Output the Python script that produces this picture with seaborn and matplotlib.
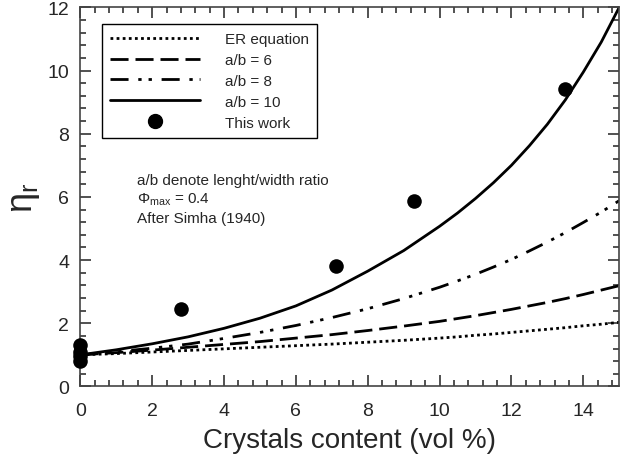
import numpy as np
import pandas as pd
import matplotlib
matplotlib.use("Agg")
import matplotlib.pyplot as plt
import seaborn as sns
from matplotlib.ticker import MultipleLocator
from matplotlib.lines import Line2D

# ---- data ----
x_curve = [0, 1, 2, 3, 4, 5, 6, 7, 8, 9, 10, 10.5, 11, 11.5, 12, 12.5, 13, 13.5, 14, 14.5, 15]
er_eq = [1.0, 1.04, 1.09, 1.14, 1.19, 1.24, 1.29, 1.34, 1.40, 1.46, 1.53, 1.57, 1.62, 1.66,
         1.71, 1.76, 1.81, 1.86, 1.92, 1.97, 2.03]
ab6 = [1.0, 1.07, 1.15, 1.24, 1.33, 1.42, 1.53, 1.64, 1.77, 1.91, 2.06, 2.15, 2.24, 2.34,
       2.44, 2.55, 2.66, 2.78, 2.91, 3.05, 3.19]
ab8 = [1.0, 1.10, 1.21, 1.34, 1.52, 1.71, 1.93, 2.18, 2.46, 2.78, 3.14, 3.34, 3.55, 3.78,
       4.02, 4.29, 4.57, 4.87, 5.19, 5.52, 5.88]
ab10 = [1.0, 1.16, 1.35, 1.57, 1.84, 2.16, 2.55, 3.05, 3.65, 4.30, 5.07, 5.49, 5.95, 6.45,
        7.00, 7.62, 8.30, 9.07, 9.95, 10.90, 12.0]

work_x = [0, 0, 0, 0, 2.8, 7.12, 9.3, 13.5]
work_y = [1.32, 1.08, 0.95, 0.80, 2.45, 3.80, 5.88, 9.40]

labels = ["ER equation", "a/b = 6", "a/b = 8", "a/b = 10", "This work"]
x_ticks = [0, 2, 4, 6, 8, 10, 12, 14]
y_ticks = [0, 2, 4, 6, 8, 10, 12]

# ---- style ----
sns.set_style("ticks")
plt.rcParams["font.family"] = ["Liberation Sans", "DejaVu Sans"]
plt.rcParams["mathtext.fontset"] = "custom"
plt.rcParams["mathtext.rm"] = "Liberation Sans"
plt.rcParams["mathtext.it"] = "Liberation Sans"

fig = plt.figure(figsize=(6.28, 4.64), dpi=100)
ax = fig.add_axes([0.128, 0.165, 0.858, 0.817])

lw = 2.0
styles = [
    (0, (1.0, 1.2)),
    (0, (6.5, 2.5)),
    (0, (6.5, 3.5, 1.2, 2.5, 1.2, 3.5)),
    "-",
]
series = [er_eq, ab6, ab8, ab10]
handles = []
for vals, ls, lab in zip(series, styles, labels[:4]):
    df = pd.DataFrame({"x": x_curve, "y": vals})
    sns.lineplot(data=df, x="x", y="y", ax=ax, color="black", linewidth=lw,
                 linestyle=ls, estimator=None, sort=False, legend=False)
    handles.append(Line2D([0], [0], color="black", linewidth=lw, linestyle=ls, label=lab))

dfp = pd.DataFrame({"x": work_x, "y": work_y})
sns.scatterplot(data=dfp, x="x", y="y", ax=ax, color="black", s=110,
                edgecolor="black", linewidth=0, zorder=5, legend=False, clip_on=False)
handles.append(Line2D([0], [0], color="black", marker="o", markersize=10,
                      linestyle="none", label=labels[4]))

ax.set_xlim(0, 15)
ax.set_ylim(0, 12)
ax.set_xticks(x_ticks)
ax.set_yticks(y_ticks)
ax.xaxis.set_minor_locator(MultipleLocator(0.4))
ax.yaxis.set_minor_locator(MultipleLocator(0.4))
ax.tick_params(which="both", direction="in", top=True, right=True, width=1.2, color="#333333")
ax.tick_params(which="major", length=8, labelsize=14, pad=8)
ax.tick_params(axis="x", which="major", pad=11)
ax.tick_params(which="minor", length=4)
for s in ax.spines.values():
    s.set_color("#444444")
    s.set_linewidth(1.2)

ax.set_xlabel("Crystals content (vol %)", fontsize=20, labelpad=6)
ax.set_ylabel(r"$\mathregular{\eta_r}$", fontsize=26, labelpad=4)

leg = ax.legend(handles=handles, loc="upper left", bbox_to_anchor=(0.04, 0.957),
                borderaxespad=0, fontsize=11, handlelength=5.9, handletextpad=1.6,
                labelspacing=0.45, frameon=True, fancybox=False, edgecolor="black",
                borderpad=0.55, numpoints=1)
leg.get_frame().set_linewidth(1.0)
leg.get_frame().set_alpha(1)

ax.text(0.105, 0.545, "a/b denote lenght/width ratio", transform=ax.transAxes,
        fontsize=11, va="center", ha="left")
ax.text(0.105, 0.495, r"$\mathregular{\Phi_{max}}$ = 0.4", transform=ax.transAxes,
        fontsize=11, va="center", ha="left")
ax.text(0.105, 0.445, "After Simha (1940)", transform=ax.transAxes,
        fontsize=11, va="center", ha="left")

fig.savefig("out.png", dpi=100)
